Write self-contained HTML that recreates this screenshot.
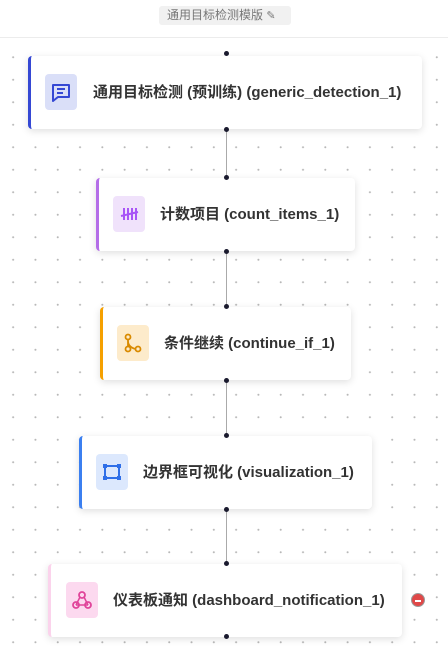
<!DOCTYPE html>
<html><head><meta charset="utf-8"><style>
body{margin:0;width:448px;height:658px;overflow:hidden;background:#fff;font-family:"Liberation Sans","Noto Sans CJK SC",sans-serif;position:relative}
.grid{position:absolute;left:0;top:38px;width:448px;height:620px;background-image:radial-gradient(circle,#b8b8b8 0.8px,transparent 1.2px);background-size:22.3px 22.5px;background-position:2px 8px}
.hdr{position:absolute;left:0;top:0;width:448px;height:37px;border-bottom:1px solid #ececec;background:#fff}
.pill{position:absolute;left:159px;top:6px;width:132px;height:19px;background:#f1f1f1;border-radius:3px;color:#777;font-size:12px;line-height:19px;padding-left:8px;box-sizing:border-box}
.line{position:absolute;left:225.5px;width:1px;background:#aaa}
.node{position:absolute;height:73px;background:#fff;border-radius:4px;box-shadow:0 2px 8px rgba(0,0,0,.13);box-sizing:border-box}
.icon{position:absolute;top:18px;width:32px;height:36px;border-radius:4px}
.t{position:absolute;top:0;line-height:73px;font-size:15px;font-weight:bold;color:#333;white-space:nowrap}
.h{position:absolute;width:5px;height:5px;border-radius:50%;background:#1a1a2e;left:223.5px}
</style></head><body>
<div class="grid"></div>
<div class="hdr"><div class="pill">通用目标检测模版 <span style="font-size:11px">✎</span></div></div>
<div class="line" style="top:130px;height:48px"></div>
<div class="line" style="top:251px;height:56px"></div>
<div class="line" style="top:380px;height:56px"></div>
<div class="line" style="top:509px;height:55px"></div>

<div class="node" style="left:28px;top:56px;width:394px;border-left:3px solid #3548d4">
<div class="icon" style="left:14px;background:#dadff8"><svg width="32" height="36" viewBox="0 0 32 36"><path d="M8 11h16v12H13l-5 4z" fill="none" stroke="#3548d4" stroke-width="2" stroke-linejoin="round"/><path d="M12 15h8M12 19h6" stroke="#3548d4" stroke-width="2"/></svg></div>
<div class="t" style="left:62px">通用目标检测 (预训练) (generic_detection_1)</div></div>

<div class="node" style="left:96px;top:178px;width:259px;border-left:3px solid #b46ee8">
<div class="icon" style="left:14px;background:#f0e2fb"><svg width="32" height="36" viewBox="0 0 32 36"><path d="M11 12v12M15 12v12M19 12v12M23 12v12M8 20l17-4" stroke="#a855f7" stroke-width="2"/></svg></div>
<div class="t" style="left:61px">计数项目 (count_items_1)</div></div>

<div class="node" style="left:100px;top:307px;width:251px;border-left:3px solid #f5a000">
<div class="icon" style="left:14px;background:#fdebcb"><svg width="32" height="36" viewBox="0 0 32 36"><circle cx="11" cy="12" r="2.5" fill="none" stroke="#d98a00" stroke-width="1.8"/><circle cx="11" cy="24" r="2.5" fill="none" stroke="#d98a00" stroke-width="1.8"/><circle cx="21" cy="24" r="2.5" fill="none" stroke="#d98a00" stroke-width="1.8"/><path d="M11 14.5v7M11 16q0 6 7.5 8" fill="none" stroke="#d98a00" stroke-width="1.8"/></svg></div>
<div class="t" style="left:61px">条件继续 (continue_if_1)</div></div>

<div class="node" style="left:79px;top:436px;width:293px;border-left:3px solid #3b7ff0">
<div class="icon" style="left:14px;background:#dce8fd"><svg width="32" height="36" viewBox="0 0 32 36"><rect x="9" y="12" width="14" height="12" fill="none" stroke="#2f6fe8" stroke-width="2"/><rect x="7" y="10" width="4" height="4" fill="#2f6fe8"/><rect x="21" y="10" width="4" height="4" fill="#2f6fe8"/><rect x="7" y="22" width="4" height="4" fill="#2f6fe8"/><rect x="21" y="22" width="4" height="4" fill="#2f6fe8"/></svg></div>
<div class="t" style="left:61px">边界框可视化 (visualization_1)</div></div>

<div class="node" style="left:48px;top:564px;width:354px;border-left:3px solid #fbd3ec">
<div class="icon" style="left:15px;background:#fcd9ef"><svg width="32" height="36" viewBox="0 0 32 36"><circle cx="16" cy="13" r="3" fill="none" stroke="#e0449a" stroke-width="1.8"/><circle cx="10" cy="23" r="3" fill="none" stroke="#e0449a" stroke-width="1.8"/><circle cx="22" cy="23" r="3" fill="none" stroke="#e0449a" stroke-width="1.8"/><path d="M14 15l-4 8M18 15l4 8M10 23h12" fill="none" stroke="#e0449a" stroke-width="1.5"/></svg></div>
<div class="t" style="left:62px">仪表板通知 (dashboard_notification_1)</div></div>

<div style="position:absolute;left:411px;top:593px;width:14px;height:14px;border-radius:50%;background:#e04848;border:1px solid #999;box-sizing:border-box"><div style="position:absolute;left:3px;top:5.5px;width:6px;height:2px;background:#fff"></div></div>

<div class="h" style="top:51px"></div><div class="h" style="top:127px"></div>
<div class="h" style="top:175px"></div><div class="h" style="top:249px"></div>
<div class="h" style="top:304px"></div><div class="h" style="top:378px"></div>
<div class="h" style="top:433px"></div><div class="h" style="top:507px"></div>
<div class="h" style="top:561px"></div><div class="h" style="top:634px"></div>
</body></html>
